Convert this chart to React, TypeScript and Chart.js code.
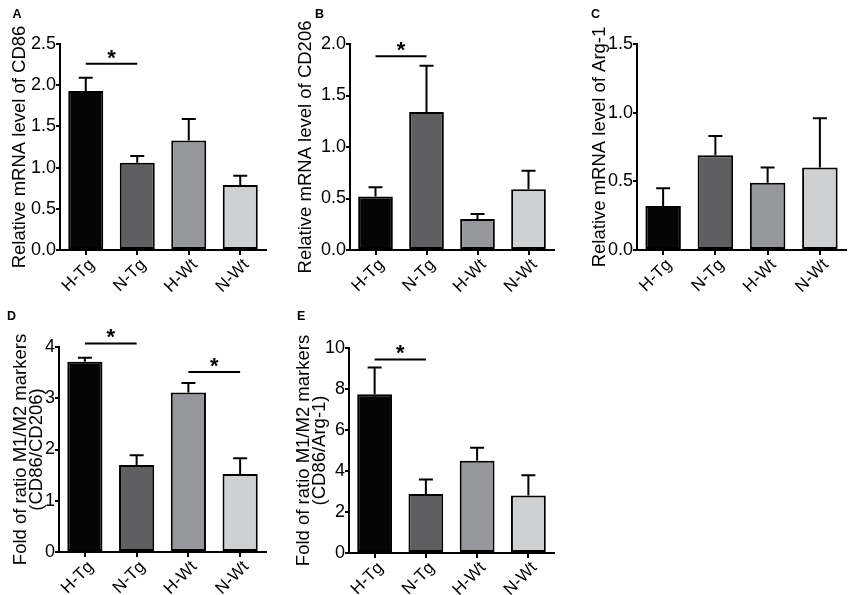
import React, { useEffect, useRef } from "react";
import { Chart, registerables } from "chart.js";

Chart.register(...registerables);

// ---- data ----
const categories = ["H-Tg", "N-Tg", "H-Wt", "N-Wt"];

const cd86Mean = [1.93, 1.06, 1.33, 0.79];
const cd86Err = [0.16, 0.08, 0.26, 0.11];
const cd86Sig = [{ from: 0, to: 1, y: 2.26 }];

const cd206Mean = [0.52, 1.34, 0.3, 0.59];
const cd206Err = [0.09, 0.45, 0.05, 0.18];
const cd206Sig = [{ from: 0, to: 1, y: 1.88 }];

const arg1Mean = [0.32, 0.69, 0.49, 0.6];
const arg1Err = [0.13, 0.14, 0.11, 0.36];
const arg1Sig: { from: number; to: number; y: number }[] = [];

const ratioCd206Mean = [3.71, 1.7, 3.11, 1.52];
const ratioCd206Err = [0.08, 0.19, 0.19, 0.31];
const ratioCd206Sig = [
  { from: 0, to: 1, y: 4.07 },
  { from: 2, to: 3, y: 3.51 },
];

const ratioArg1Mean = [7.75, 2.88, 4.5, 2.8];
const ratioArg1Err = [1.3, 0.7, 0.64, 0.99];
const ratioArg1Sig = [{ from: 0, to: 1, y: 9.44 }];

// ---- styles / layout ----
const FONT = "'Liberation Sans', Arial, Helvetica, sans-serif";
const barColors = ["#050505", "#5f5f61", "#96979c", "#cfd0d2"];
const TITLE_SIZE = 18.5;

type Panel = {
  letter: string;
  title: string[];
  means: number[];
  errs: number[];
  sig: { from: number; to: number; y: number }[];
  yMax: number;
  yStep: number;
  dec: number;
  box: [number, number, number, number];
  area: [number, number, number, number];
  titleX: number;
  letterXY: [number, number];
};

const panels: Panel[] = [
  {
    letter: "A",
    title: ["Relative mRNA level of CD86"],
    means: cd86Mean,
    errs: cd86Err,
    sig: cd86Sig,
    yMax: 2.5,
    yStep: 0.5,
    dec: 1,
    box: [0, 0, 282, 300],
    area: [60, 266, 44, 250],
    titleX: 20,
    letterXY: [12.5, 8.4],
  },
  {
    letter: "B",
    title: ["Relative mRNA level of CD206"],
    means: cd206Mean,
    errs: cd206Err,
    sig: cd206Sig,
    yMax: 2.0,
    yStep: 0.5,
    dec: 1,
    box: [285, 0, 285, 300],
    area: [350, 554, 44, 250],
    titleX: 306,
    letterXY: [315, 8.4],
  },
  {
    letter: "C",
    title: ["Relative mRNA level of Arg-1"],
    means: arg1Mean,
    errs: arg1Err,
    sig: arg1Sig,
    yMax: 1.5,
    yStep: 0.5,
    dec: 1,
    box: [565, 0, 285, 300],
    area: [637, 846, 44, 250],
    titleX: 600,
    letterXY: [591, 8.4],
  },
  {
    letter: "D",
    title: ["Fold of ratio M1/M2 markers", "(CD86/CD206)"],
    means: ratioCd206Mean,
    errs: ratioCd206Err,
    sig: ratioCd206Sig,
    yMax: 4,
    yStep: 1,
    dec: 0,
    box: [0, 295, 282, 300],
    area: [59, 266, 347, 552],
    titleX: 21,
    letterXY: [7, 310],
  },
  {
    letter: "E",
    title: ["Fold of ratio M1/M2 markers", "(CD86/Arg-1)"],
    means: ratioArg1Mean,
    errs: ratioArg1Err,
    sig: ratioArg1Sig,
    yMax: 10,
    yStep: 2,
    dec: 0,
    box: [285, 295, 285, 300],
    area: [349, 554, 348, 553],
    titleX: 304,
    letterXY: [297, 310],
  },
];

function makeOverlay(p: Panel) {
  return {
    id: "overlay" + p.letter,
    afterDatasetsDraw(chart: any) {
      const { ctx } = chart;
      const x = chart.scales.x;
      const y = chart.scales.y;
      ctx.save();
      ctx.strokeStyle = "#000";
      ctx.lineWidth = 2;
      ctx.lineCap = "butt";
      p.means.forEach((m, i) => {
        const px = x.getPixelForValue(i);
        const y0 = y.getPixelForValue(m);
        const y1 = y.getPixelForValue(m + p.errs[i]);
        ctx.beginPath();
        ctx.moveTo(px, y0);
        ctx.lineTo(px, y1);
        ctx.moveTo(px - 7, y1);
        ctx.lineTo(px + 7, y1);
        ctx.stroke();
      });
      const starSize = 22;
      p.sig.forEach((s) => {
        const x1 = x.getPixelForValue(s.from);
        const x2 = x.getPixelForValue(s.to);
        const py = y.getPixelForValue(s.y);
        ctx.beginPath();
        ctx.moveTo(x1, py);
        ctx.lineTo(x2, py);
        ctx.stroke();
        ctx.fillStyle = "#000";
        ctx.font = `bold ${starSize}px ${FONT}`;
        ctx.textAlign = "center";
        ctx.textBaseline = "alphabetic";
        const cy = py - 12;
        ctx.fillText("*", (x1 + x2) / 2, cy + 0.58 * starSize);
      });
      ctx.restore();
    },
  };
}

function PanelChart({ p }: { p: Panel }) {
  const ref = useRef<HTMLCanvasElement | null>(null);
  useEffect(() => {
    if (!ref.current) return;
    const [bx, by, bw, bh] = p.box;
    const [al, ar, at, ab] = p.area;
    const multi = p.title.length > 1;
    const lhRatio = multi ? 15.5 / TITLE_SIZE : 1.2;
    const lhPx = lhRatio * TITLE_SIZE;
    const titlePad = p.titleX - bx - lhPx / 2;
    const chart = new Chart(ref.current, {
      type: "bar",
      data: {
        labels: categories,
        datasets: [
          {
            data: p.means,
            backgroundColor: barColors,
            borderColor: "#000",
            borderWidth: 2,
            borderSkipped: false,
            barPercentage: 0.68,
            categoryPercentage: 1,
          },
        ],
      },
      plugins: [makeOverlay(p)],
      options: {
        responsive: false,
        animation: false,
        devicePixelRatio: 1,
        layout: {
          padding: { top: at - by, right: bx + bw - ar, left: 0, bottom: 0 },
        },
        plugins: {
          legend: { display: false },
          tooltip: { enabled: false },
        },
        scales: {
          x: {
            type: "category",
            offset: true,
            grid: {
              display: true,
              offset: false,
              drawOnChartArea: false,
              drawTicks: true,
              tickLength: 5,
              color: "#000",
              lineWidth: 2,
            },
            border: { display: true, color: "#000", width: 2 },
            ticks: {
              color: "#000",
              font: { family: FONT, size: 17 },
              minRotation: 45,
              maxRotation: 45,
              autoSkip: false,
              padding: 0,
              labelOffset: 6,
            },
            afterFit: (s: any) => {
              s.height = by + bh - ab;
            },
          },
          y: {
            min: 0,
            max: p.yMax,
            ticks: {
              stepSize: p.yStep,
              color: "#000",
              font: { family: FONT, size: 18 },
              padding: 0,
              callback: (v: any) => Number(v).toFixed(p.dec),
            },
            grid: {
              drawOnChartArea: false,
              drawTicks: true,
              tickLength: 4,
              color: "#000",
              lineWidth: 2,
            },
            border: { display: true, color: "#000", width: 2 },
            title: {
              display: true,
              text: p.title,
              color: "#000",
              font: { family: FONT, size: TITLE_SIZE, lineHeight: lhRatio },
              padding: { top: titlePad, bottom: 0 },
            },
            afterFit: (s: any) => {
              s.width = al - bx;
            },
          },
        },
      },
    } as any);
    return () => chart.destroy();
  }, [p]);
  const [bx, by, bw, bh] = p.box;
  return (
    <>
      <canvas
        ref={ref}
        width={bw}
        height={bh}
        style={{ position: "absolute", left: bx, top: by, width: bw, height: bh }}
      />
      <div
        style={{
          position: "absolute",
          left: p.letterXY[0],
          top: p.letterXY[1],
          fontFamily: FONT,
          fontWeight: "bold",
          fontSize: 12.5,
          lineHeight: "12.5px",
          color: "#000",
        }}
      >
        {p.letter}
      </div>
    </>
  );
}

export default function App() {
  return (
    <div
      style={{
        position: "absolute",
        left: 0,
        top: 0,
        width: 850,
        height: 595,
        background: "#fff",
        overflow: "hidden",
      }}
    >
      {panels.map((p) => (
        <PanelChart key={p.letter} p={p} />
      ))}
    </div>
  );
}
